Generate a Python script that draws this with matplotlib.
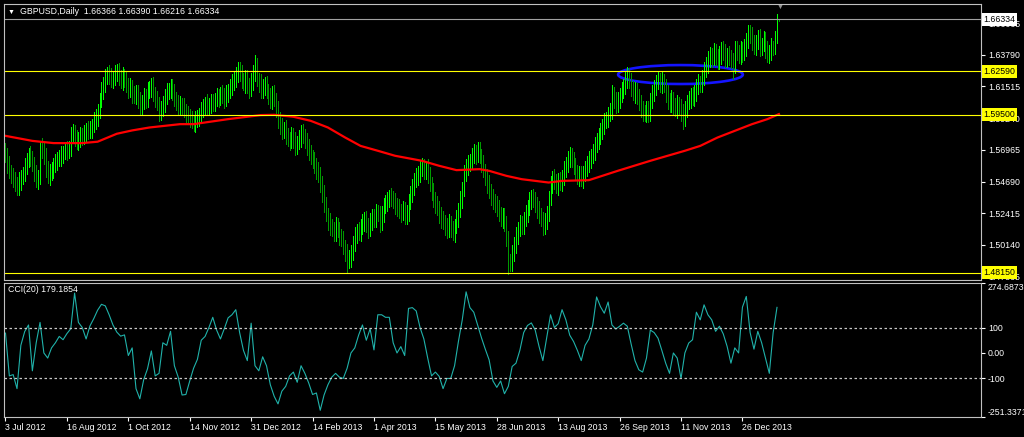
import numpy as np
import matplotlib
matplotlib.use('Agg')
import matplotlib.pyplot as plt
from matplotlib.patches import Ellipse

# daily closes GBPUSD (bar 0 = 3 Jul 2012)
first_open = 1.5690
closes = [
    1.5660, 1.5590, 1.5540, 1.5520, 1.5480, 1.5450, 1.5420, 1.5470, 1.5500, 1.5530,
    1.5580, 1.5620, 1.5660, 1.5640, 1.5600, 1.5530, 1.5480, 1.5500, 1.5720, 1.5700,
    1.5650, 1.5560, 1.5500, 1.5530, 1.5560, 1.5590, 1.5610, 1.5630, 1.5640, 1.5660,
    1.5680, 1.5700, 1.5690, 1.5710, 1.5800, 1.5830, 1.5780, 1.5760, 1.5770, 1.5800,
    1.5790, 1.5820, 1.5840, 1.5830, 1.5850, 1.5870, 1.5900, 1.5930, 1.5980, 1.6050,
    1.6120, 1.6170, 1.6220, 1.6240, 1.6230, 1.6200, 1.6210, 1.6250, 1.6270, 1.6220,
    1.6190, 1.6230, 1.6200, 1.6160, 1.6130, 1.6150, 1.6100, 1.6080, 1.6110, 1.6050,
    1.6010, 1.6040, 1.6080, 1.6060, 1.6120, 1.6140, 1.6160, 1.6100, 1.6060, 1.6030,
    1.5960, 1.5990, 1.6030, 1.6080, 1.6110, 1.6130, 1.6150, 1.6110, 1.6060, 1.6040,
    1.6000, 1.6020, 1.6010, 1.5980, 1.5950, 1.5940, 1.5920, 1.5900, 1.5890, 1.5910,
    1.5930, 1.5950, 1.5980, 1.6010, 1.6030, 1.6000, 1.6020, 1.6040, 1.6030, 1.6060,
    1.6080, 1.6070, 1.6100, 1.6090, 1.6060, 1.6100, 1.6120, 1.6150, 1.6180, 1.6210,
    1.6240, 1.6270, 1.6240, 1.6200, 1.6170, 1.6210, 1.6160, 1.6130, 1.6180, 1.6250,
    1.6300, 1.6200, 1.6180, 1.6120, 1.6150, 1.6170, 1.6120, 1.6080, 1.6050, 1.6100,
    1.6060, 1.5990, 1.5920, 1.5860, 1.5830, 1.5850, 1.5800, 1.5780, 1.5760, 1.5800,
    1.5760, 1.5720, 1.5750, 1.5780, 1.5820, 1.5800, 1.5760, 1.5720, 1.5680, 1.5650,
    1.5620, 1.5580, 1.5550, 1.5520, 1.5460, 1.5380, 1.5300, 1.5230, 1.5180, 1.5150,
    1.5130, 1.5100, 1.5150, 1.5120, 1.5080, 1.5060, 1.5000, 1.4960, 1.4900, 1.4920,
    1.4960, 1.5030, 1.5080, 1.5120, 1.5100, 1.5150, 1.5170, 1.5200, 1.5160, 1.5130,
    1.5180, 1.5220, 1.5200, 1.5250, 1.5230, 1.5170, 1.5240, 1.5290, 1.5320, 1.5340,
    1.5360, 1.5350, 1.5330, 1.5300, 1.5280, 1.5260, 1.5240, 1.5270, 1.5220, 1.5250,
    1.5320, 1.5380, 1.5430, 1.5480, 1.5500, 1.5530, 1.5560, 1.5580, 1.5540, 1.5570,
    1.5520, 1.5450, 1.5400, 1.5340, 1.5300, 1.5280, 1.5230, 1.5200, 1.5180, 1.5150,
    1.5120, 1.5170, 1.5130, 1.5100, 1.5150, 1.5200, 1.5260, 1.5340, 1.5420, 1.5520,
    1.5580, 1.5600, 1.5620, 1.5650, 1.5680, 1.5660, 1.5700, 1.5650, 1.5600, 1.5550,
    1.5500, 1.5450, 1.5400, 1.5360, 1.5330, 1.5300, 1.5280, 1.5240, 1.5200, 1.5220,
    1.5170, 1.5060, 1.4900, 1.4880, 1.4950, 1.5020, 1.5080, 1.5130, 1.5170, 1.5150,
    1.5200, 1.5240, 1.5280, 1.5330, 1.5360, 1.5340, 1.5300, 1.5270, 1.5230, 1.5200,
    1.5150, 1.5180, 1.5240, 1.5350, 1.5450, 1.5500, 1.5470, 1.5440, 1.5480, 1.5460,
    1.5500, 1.5550, 1.5600, 1.5630, 1.5660, 1.5620, 1.5580, 1.5540, 1.5500, 1.5520,
    1.5490, 1.5530, 1.5560, 1.5600, 1.5620, 1.5650, 1.5690, 1.5730, 1.5760, 1.5800,
    1.5830, 1.5870, 1.5900, 1.5920, 1.5950, 1.5980, 1.6100, 1.6050, 1.6020, 1.6060,
    1.6090, 1.6120, 1.6160, 1.6200, 1.6230, 1.6190, 1.6140, 1.6100, 1.6120, 1.6080,
    1.6030, 1.5990, 1.5970, 1.5950, 1.5990, 1.5960, 1.6050, 1.6100, 1.6150, 1.6180,
    1.6200, 1.6170, 1.6190, 1.6160, 1.6100, 1.6050, 1.6020, 1.6060, 1.6010, 1.5990,
    1.6030, 1.6000, 1.5960, 1.5920, 1.5990, 1.6040, 1.6060, 1.6090, 1.6070, 1.6110,
    1.6150, 1.6180, 1.6170, 1.6210, 1.6270, 1.6310, 1.6340, 1.6380, 1.6350, 1.6400,
    1.6370, 1.6330, 1.6380, 1.6420, 1.6390, 1.6350, 1.6380, 1.6360, 1.6340, 1.6300,
    1.6420, 1.6400, 1.6370, 1.6420, 1.6390, 1.6430, 1.6480, 1.6540, 1.6520, 1.6460,
    1.6440, 1.6470, 1.6500, 1.6430, 1.6450, 1.6490, 1.6420, 1.6380, 1.6400, 1.6440,
    1.6430, 1.6500, 1.6637, 1.6633,
]

# distance from body to high / low, in pips
wick_hi = [
    55, 48, 62, 50, 45, 58, 50, 65, 53, 47, 60, 56, 49, 64, 51, 46, 59, 54, 40, 61,
    48, 57, 53, 65, 46, 51, 60, 49, 56, 63, 47, 54, 58, 50, 62, 55, 48, 59, 52, 64,
    50, 56, 47, 61, 53, 49, 65, 58, 46, 54, 60, 51, 57, 48, 63, 55, 50, 59, 40, 47,
    53, 62, 49, 56, 51, 64, 48, 58, 55, 50, 61, 47, 57, 52, 65, 49, 54, 60, 51, 56,
    47, 59, 54, 50, 63, 48, 57, 52, 61, 55, 49, 64, 51, 58, 46, 60, 53, 56, 50, 62,
    55, 49, 60, 53, 47, 65, 51, 58, 54, 48, 62, 56, 50, 59, 52, 64, 47, 57, 61, 49,
    51, 58, 54, 63, 48, 56, 60, 50, 65, 53, 75, 57, 49, 62, 55, 51, 59, 47, 64, 54,
    60, 48, 56, 51, 63, 50, 58, 55, 47, 61, 53, 65, 49, 57, 52, 60, 46, 59, 54, 50,
    49, 63, 55, 58, 51, 47, 62, 56, 50, 60, 53, 48, 65, 54, 59, 51, 57, 49, 61, 55,
    56, 50, 61, 48, 59, 53, 64, 51, 57, 47, 62, 55, 50, 58, 49, 63, 54, 60, 52, 56,
    50, 62, 53, 57, 48, 65, 51, 59, 55, 49, 61, 54, 58, 47, 63, 50, 56, 60, 53, 48,
    61, 54, 49, 58, 52, 64, 47, 56, 60, 51, 55, 63, 50, 57, 48, 62, 53, 59, 49, 65,
    53, 59, 50, 62, 56, 48, 55, 54, 51, 60, 47, 57, 63, 52, 58, 49, 64, 55, 50, 61,
    58, 51, 56, 49, 64, 53, 60, 47, 62, 55, 50, 59, 54, 65, 48, 57, 52, 61, 56, 50,
    49, 64, 55, 51, 59, 47, 62, 56, 50, 58, 53, 65, 48, 60, 54, 51, 63, 57, 49, 59,
    62, 53, 58, 50, 65, 55, 48, 61, 56, 52, 59, 47, 64, 51, 57, 54, 60, 50, 60, 55,
    51, 60, 47, 56, 63, 53, 58, 49, 65, 55, 50, 61, 54, 48, 59, 57, 52, 64, 50, 56,
    57, 50, 62, 54, 48, 59, 53, 65, 51, 56, 60, 49, 58, 63, 55, 47, 61, 52, 57, 50,
    54, 61, 49, 58, 55, 50, 64, 53, 47, 60, 56, 51, 62, 48, 57, 65, 50, 59, 54, 52,
    60, 56, 51, 59, 48, 62, 54, 55, 50, 57, 61, 49, 55, 64, 52, 58, 50, 56, 47, 60,
    40, 50, 35, 2,
]
wick_lo = [
    50, 56, 48, 60, 53, 47, 45, 51, 64, 49, 58, 54, 46, 62, 52, 57, 50, 65, 48, 59,
    53, 60, 40, 56, 49, 63, 51, 58, 47, 61, 55, 50, 64, 52, 57, 48, 59, 54, 62, 50,
    57, 49, 62, 54, 51, 65, 48, 56, 60, 53, 47, 59, 55, 50, 63, 52, 58, 49, 61, 56,
    48, 61, 55, 50, 59, 53, 64, 47, 57, 51, 62, 56, 49, 60, 54, 48, 65, 52, 58, 50,
    59, 52, 47, 63, 55, 50, 58, 54, 49, 61, 56, 51, 64, 48, 57, 53, 60, 50, 55, 62,
    51, 64, 56, 49, 60, 54, 47, 62, 53, 58, 50, 65, 48, 55, 61, 52, 57, 49, 63, 54,
    62, 55, 51, 58, 47, 64, 53, 59, 50, 56, 61, 48, 65, 54, 49, 60, 52, 57, 51, 63,
    50, 58, 64, 53, 56, 49, 61, 55, 62, 51, 47, 59, 54, 50, 64, 56, 48, 60, 53, 57,
    55, 49, 60, 51, 65, 58, 53, 47, 56, 62, 50, 54, 59, 48, 63, 55, 51, 61, 80, 52,
    64, 53, 57, 50, 48, 61, 55, 59, 52, 65, 49, 56, 60, 54, 47, 63, 51, 58, 50, 62,
    52, 59, 48, 64, 55, 51, 60, 47, 57, 53, 63, 50, 56, 61, 49, 58, 65, 54, 51, 56,
    58, 47, 63, 52, 59, 50, 56, 65, 48, 61, 54, 49, 57, 51, 64, 53, 60, 47, 62, 55,
    49, 62, 55, 58, 50, 64, 53, 51, 60, 47, 57, 63, 52, 59, 55, 48, 61, 56, 50, 64,
    56, 51, 95, 50, 53, 48, 62, 58, 50, 60, 55, 47, 64, 52, 59, 54, 49, 63, 57, 51,
    61, 54, 50, 57, 48, 63, 56, 52, 65, 49, 59, 53, 47, 62, 58, 50, 55, 60, 51, 64,
    53, 65, 58, 49, 61, 55, 51, 64, 47, 56, 60, 52, 57, 50, 63, 48, 59, 54, 62, 49,
    60, 48, 53, 62, 56, 50, 59, 47, 64, 54, 51, 58, 65, 49, 55, 61, 53, 50, 56, 63,
    47, 57, 64, 51, 58, 62, 49, 55, 60, 53, 65, 50, 56, 75, 52, 59, 48, 63, 54, 58,
    63, 50, 56, 60, 49, 54, 65, 51, 58, 48, 61, 55, 53, 64, 47, 57, 62, 52, 59, 95,
    55, 62, 48, 57, 64, 51, 59, 53, 60, 49, 56, 65, 50, 58, 54, 47, 63, 51, 61, 56,
    50, 48, 40, 11,
]

# 200-day MA (red), read at a few bars
ma_bar = [0, 14, 25, 40, 48, 58, 66, 75, 91, 98, 116, 133, 140, 150, 159, 168, 177,
          185, 194, 203, 217, 226, 235, 247, 252, 261, 269, 283, 290, 304, 319, 336,
          354, 362, 371, 380, 389, 397, 403]
ma_val = [1.5797, 1.5761, 1.5745, 1.5745, 1.5755, 1.5812, 1.5836, 1.5857, 1.5881,
          1.5881, 1.5917, 1.5946, 1.5948, 1.5934, 1.5905, 1.5857, 1.5785, 1.5725,
          1.5690, 1.5654, 1.5618, 1.5582, 1.5551, 1.5558, 1.5546, 1.5510, 1.5486,
          1.5462, 1.5474, 1.5479, 1.5546, 1.5618, 1.5690, 1.5725, 1.5785, 1.5833,
          1.5881, 1.5917, 1.5953]

# CCI(20), one reading every 2 bars
cci = [
    78, -90, -85, -140, 30, 84, 110, -70, 40, 120,
    0, -20, 20, 40, 65, 52, 76, 95, 235, 120,
    100, 55, 106, 135, 168, 191, 185, 150, 110, 82,
    66, 71, -10, 20, -140, -180, -105, -62, 8, -90,
    -80, 40, 30, 85, -50, -95, -165, -163, -110, -60,
    -25, 50, 65, 100, 140, 90, 55, 95, 138, 150,
    170, 80, 10, -30, 117, -50, -70, -15, -50, -125,
    -170, -200, -150, -131, -90, -75, -115, -50, -80, -118,
    -163, -157, -225, -165, -125, -95, -80, -95, -100, -60,
    0, 20, 70, 110, 50, 95, 12, 150, 150, 140,
    140, 40, 0, 25, -10, 175, 178, 165, 100, 55,
    -20, -90, -75, -92, -140, -100, -100, -50, 45, 130,
    240, 178, 160, 110, 60, 15, -27, -110, -135, -110,
    -160, -131, -53, -40, 10, 80, 108, 118, 90, 26,
    -30, 60, 150, 100, 115, 170, 130, 70, 45, 10,
    -30, 30, 55, 110, 220, 182, 156, 200, 110, 94,
    105, 117, 105, 35, -30, -66, -75, -20, 90, 80,
    58, 10, -40, -80, 0, -20, -100, 0, 39, 52,
    160, 130, 189, 150, 130, 85, 105, 75, 26, -40,
    20, 0, 180, 222, 80, 15, 85, 40, -20, -80,
    80, 179,
]

price_ticks = [1.66065, 1.63790, 1.61515, 1.59240, 1.56965, 1.54690, 1.52415, 1.50140, 1.47865]
levels = [1.62590, 1.59500, 1.48150]
last_price = 1.66334
date_labels = ['3 Jul 2012', '16 Aug 2012', '1 Oct 2012', '14 Nov 2012', '31 Dec 2012',
               '14 Feb 2013', '1 Apr 2013', '15 May 2013', '28 Jun 2013', '13 Aug 2013',
               '26 Sep 2013', '11 Nov 2013', '26 Dec 2013']

closes = np.array(closes)
n = len(closes)
idx = np.arange(n)
opens = np.concatenate([[first_open], closes[:-1]])
highs = np.maximum(opens, closes) + np.array(wick_hi[:n]) / 1e4
lows = np.minimum(opens, closes) - np.array(wick_lo[:n]) / 1e4
up = closes >= opens

W, H = 1024, 437
fs = 6.3
plt.rcParams['font.family'] = ['Liberation Sans', 'DejaVu Sans']

fig = plt.figure(figsize=(W / 100, H / 100), dpi=100, facecolor='black')
ax = fig.add_axes([4 / W, 1 - 279.5 / H, 977 / W, 275.5 / H], facecolor='black')
ax2 = fig.add_axes([4 / W, 1 - 417 / H, 977 / W, 134 / H], facecolor='black')

# price bars
ax.vlines(idx[up], lows[up], highs[up], colors='#00ff00', linewidth=0.5, antialiased=False)
ax.vlines(idx[~up], lows[~up], highs[~up], colors='#009a00', linewidth=0.5, antialiased=False)
ax.plot(ma_bar, ma_val, color='#ff0000', linewidth=1.6)
for lv in levels:
    ax.axhline(lv, color='#ffff00', linewidth=0.8)
ax.axhline(last_price, color='#a0a0a0', linewidth=0.8)
ax.add_patch(Ellipse((351.7, 1.6237), width=65, height=0.0136, fill=False,
                     edgecolor='#1414ff', linewidth=1.9))

ax.set_xlim(-0.78, 508.3)
ax.set_ylim(1.47662, 1.67432)
ax.set_xticks([])
ax.yaxis.tick_right()
ax.set_yticks(price_ticks)
ax.set_yticklabels(['%.5f' % v for v in price_ticks])
ax.tick_params(axis='y', colors='white', labelsize=fs, length=3, pad=2)

yt = ax.get_yaxis_transform()
for lv in levels:
    ax.text(1.0025, lv, '%.5f' % lv, transform=yt, va='center', ha='left', fontsize=fs,
            color='black', bbox=dict(boxstyle='square,pad=0.2', fc='#ffff00', ec='none'))
ax.text(1.0025, last_price, '%.5f' % last_price, transform=yt, va='center', ha='left',
        fontsize=fs, color='black', bbox=dict(boxstyle='square,pad=0.2', fc='white', ec='none'))

# CCI panel
ax2.plot(np.arange(0, 2 * len(cci), 2), cci, color='#20b2aa', linewidth=0.8)
for lv in [100, -100]:
    ax2.axhline(lv, color='#c8c8c8', linewidth=0.9, linestyle=(0, (2, 2)))
ax2.set_xlim(-0.78, 508.3)
ax2.set_ylim(-251.3371, 274.6873)
ax2.yaxis.tick_right()
ax2.set_yticks([274.6873, 100, 0, -100, -251.3371])
ax2.set_yticklabels(['274.6873', '100', '0.00', '-100', '-251.3371'])
ax2.tick_params(axis='y', colors='white', labelsize=fs, length=3, pad=2)
lbls = ax2.get_yticklabels()
lbls[0].set_va('top')
lbls[-1].set_va('bottom')

ax2.set_xticks(np.arange(0, 32 * len(date_labels), 32))
ax2.set_xticklabels(date_labels, ha='left')
ax2.tick_params(axis='x', colors='white', labelsize=fs, length=3, pad=1)

for a in (ax, ax2):
    for s in a.spines.values():
        s.set_color('#c0c0c0')
        s.set_linewidth(0.8)

fig.text(8 / W, 1 - 12 / H, '\u25bc', color='white', fontsize=5, va='center')
fig.text(20 / W, 1 - 12 / H, 'GBPUSD,Daily  1.66366 1.66390 1.66216 1.66334',
         color='white', fontsize=fs, va='center')
fig.text(8 / W, 1 - 290 / H, 'CCI(20) 179.1854', color='white', fontsize=fs, va='center')
fig.text(780 / W, 1 - 7 / H, '\u25bc', color='#909090', fontsize=5, va='center', ha='center')

plt.savefig('out.png', dpi=100, facecolor='black')
plt.close()
